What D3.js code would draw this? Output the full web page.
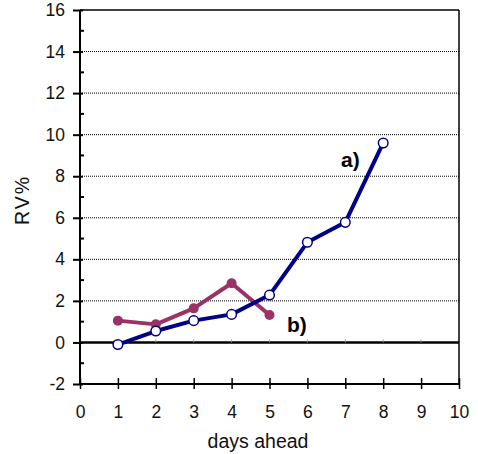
<!DOCTYPE html>
<html>
<head>
<meta charset="utf-8">
<script src="https://cdn.jsdelivr.net/npm/d3@7"></script>
<style>
body { margin:0; background:#fff; }
text { font-family: "Liberation Sans", Arial, sans-serif; }
</style>
</head>
<body>
<svg id="chart" width="478" height="454"></svg>
<script>
// values
var days = [1, 2, 3, 4, 5, 6, 7, 8];
var seriesA = [-0.1, 0.55, 1.05, 1.35, 2.28, 4.82, 5.78, 9.6];
var daysB = [1, 2, 3, 4, 5];
var seriesB = [1.05, 0.87, 1.64, 2.85, 1.32];
var xTicks = [0, 1, 2, 3, 4, 5, 6, 7, 8, 9, 10];
var yTicks = [-2, 0, 2, 4, 6, 8, 10, 12, 14, 16];
var yMinor = [-1, 1, 3, 5, 7, 9, 11, 13, 15];

var svg = d3.select("#chart");
var pLeft = 80, pRight = 459, pTop = 10, pBottom = 384;

var x = d3.scaleLinear().domain([0, 10]).range([pLeft, pRight]);
var y = d3.scaleLinear().domain([-2, 16]).range([pBottom, pTop]);

// dotted gridlines
svg.append("g").selectAll("line")
	.data(yTicks.filter(function(d){ return d > 0 && d < 16; }))
	.enter().append("line")
	.attr("x1", pLeft).attr("x2", pRight)
	.attr("y1", function(d){ return y(d); }).attr("y2", function(d){ return y(d); })
	.attr("stroke", "#000").attr("stroke-width", 1).attr("stroke-dasharray", "1,1");

// frame
svg.append("line").attr("x1", pLeft).attr("x2", pRight).attr("y1", y(16)).attr("y2", y(16))
	.attr("stroke", "#000").attr("stroke-width", 1.5);
svg.append("line").attr("x1", pRight).attr("x2", pRight).attr("y1", y(16)).attr("y2", y(-2))
	.attr("stroke", "#000").attr("stroke-width", 1.5);

// zero line
svg.append("line").attr("x1", pLeft).attr("x2", pRight).attr("y1", y(0)).attr("y2", y(0))
	.attr("stroke", "#000").attr("stroke-width", 2.5);
svg.append("g").selectAll("line").data(xTicks.slice(1, 10)).enter().append("line")
	.attr("x1", function(d){ return x(d); }).attr("x2", function(d){ return x(d); })
	.attr("y1", y(0) - 3).attr("y2", y(0))
	.attr("stroke", "#999").attr("stroke-width", 1);

// y axis
var yAxis = d3.axisLeft(y).tickValues(yTicks).tickSize(7).tickPadding(8)
	.tickFormat(function(d){ return String(d); });
var gy = svg.append("g").attr("transform", "translate(" + pLeft + ",0)").call(yAxis);
gy.select(".domain").attr("stroke-width", 2).attr("d", "M0," + pBottom + "V" + pTop);
gy.selectAll(".tick line").attr("stroke-width", 2).attr("x2", -7).attr("x1", 3);
gy.selectAll(".tick text").attr("font-size", 17.5).attr("fill", "#111")
	.attr("font-family", "Liberation Sans, Arial, sans-serif");
gy.selectAll(".minor").data(yMinor).enter().append("line").attr("class", "minor")
	.attr("x1", 0).attr("x2", 4)
	.attr("y1", function(d){ return y(d); }).attr("y2", function(d){ return y(d); })
	.attr("stroke", "#000").attr("stroke-width", 2);

// x axis
var xAxis = d3.axisBottom(x).tickValues(xTicks).tickSize(5).tickPadding(17);
var gx = svg.append("g").attr("transform", "translate(0," + pBottom + ")").call(xAxis);
gx.select(".domain").attr("stroke-width", 2).attr("d", "M" + pLeft + ",0H" + pRight);
gx.selectAll(".tick line").attr("stroke-width", 1.5).attr("y1", -6).attr("y2", 5);
gx.selectAll(".tick text").attr("font-size", 17.5).attr("fill", "#111")
	.attr("font-family", "Liberation Sans, Arial, sans-serif");

// axis titles
svg.append("text").attr("x", 258).attr("y", 448)
	.attr("text-anchor", "middle").attr("font-size", 19.5).attr("fill", "#111")
	.text("days ahead");
svg.append("text").attr("transform", "translate(29,200) rotate(-90)")
	.attr("text-anchor", "middle").attr("font-size", 19.5).attr("letter-spacing", 2)
	.attr("fill", "#111").text("RV%");

var line = d3.line().x(function(d){ return x(d[0]); }).y(function(d){ return y(d[1]); });

// series b
var ptsB = daysB.map(function(d, i){ return [d, seriesB[i]]; });
svg.append("path").datum(ptsB).attr("d", line).attr("fill", "none")
	.attr("stroke", "#993366").attr("stroke-width", 4).attr("stroke-linejoin", "round");
svg.append("g").selectAll("circle").data(ptsB).enter().append("circle")
	.attr("cx", function(d){ return x(d[0]); }).attr("cy", function(d){ return y(d[1]); })
	.attr("r", 5).attr("fill", "#993366");

// series a
var ptsA = days.map(function(d, i){ return [d, seriesA[i]]; });
svg.append("path").datum(ptsA).attr("d", line).attr("fill", "none")
	.attr("stroke", "#000088").attr("stroke-width", 4).attr("stroke-linejoin", "round");
svg.append("g").selectAll("circle").data(ptsA).enter().append("circle")
	.attr("cx", function(d){ return x(d[0]); }).attr("cy", function(d){ return y(d[1]); })
	.attr("r", 4.8).attr("fill", "#fff").attr("stroke", "#000088").attr("stroke-width", 1.5);

// labels
svg.append("text").attr("x", 341).attr("y", 167).attr("font-size", 21)
	.attr("font-weight", "bold").attr("fill", "#000").text("a)");
svg.append("text").attr("x", 287).attr("y", 332).attr("font-size", 21)
	.attr("font-weight", "bold").attr("fill", "#000").text("b)");
</script>
</body>
</html>
